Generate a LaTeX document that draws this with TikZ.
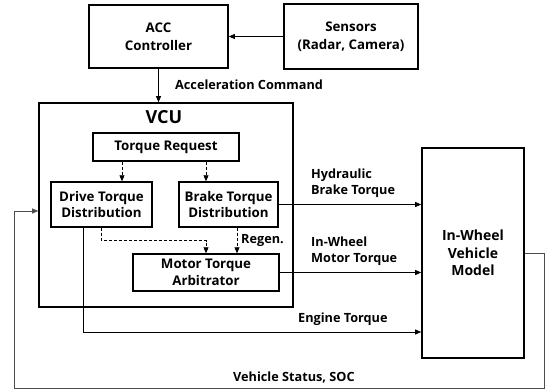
\documentclass[tikz,border=0pt]{standalone}
\usepackage{fontspec}
\setmainfont{Open Sans}
\usetikzlibrary{arrows.meta}
\begin{document}
\begin{tikzpicture}[x=1pt,y=-1pt,
  box/.style={draw,line width=1.6pt,inner sep=0pt,align=center,font=\fontsize{13.3}{16.5}\selectfont\bfseries},
  arr/.style={line width=0.8pt,-{Triangle[length=6pt,width=5pt]}},
  darr/.style={line width=0.8pt,dashed,dash pattern=on 3pt off 2pt,-{Triangle[length=6pt,width=5pt]}},
  fb/.style={line width=0.8pt,draw=black!70,-{Triangle[length=6pt,width=5pt]}},
  lbl/.style={inner sep=0pt,align=left,font=\fontsize{12.7}{16}\selectfont\bfseries}]
\useasboundingbox (0,0) rectangle (546,391);
\node[box,minimum width=139pt,minimum height=63pt,font=\fontsize{13.3}{18}\selectfont\bfseries] (acc) at (158.5,36.5) {ACC\\Controller};
\node[box,minimum width=134pt,minimum height=65pt,font=\fontsize{13.3}{18}\selectfont\bfseries] (sens) at (351,36.5) {Sensors\\(Radar, Camera)};
\node[box,minimum width=254pt,minimum height=204pt] (vcu) at (166,205) {};
\node[lbl,font=\fontsize{18}{20}\selectfont\bfseries] (vcul) at (164,117) {VCU};
\node[box,line width=1.4pt,minimum width=146pt,minimum height=28pt] (tr) at (166,147) {Torque Request};
\node[box,line width=1.4pt,minimum width=101pt,minimum height=45pt] (dtd) at (101.5,204.5) {Drive Torque\\Distribution};
\node[box,line width=1.4pt,minimum width=99pt,minimum height=45pt] (btd) at (228.5,204.5) {Brake Torque\\Distribution};
\node[box,line width=1.4pt,minimum width=146pt,minimum height=37pt] (mta) at (206,272.5) {Motor Torque\\Arbitrator};
\node[box,minimum width=102pt,minimum height=210pt,font=\fontsize{14}{17.5}\selectfont\bfseries] (iw) at (473,253) {In-Wheel\\Vehicle\\Model};
\coordinate (fb1) at (544,388);
\coordinate (fb2) at (14,211);
\draw[arr] (sens.west) -- (acc.east);
\draw[arr] (acc.south) -- (acc.south |- vcu.north);
\node[lbl,anchor=west] (accl) at (175,85) {Acceleration Command};
\draw[darr] ([xshift=-44pt]tr.south) -- ([xshift=20.5pt]dtd.north);
\draw[darr] ([xshift=40pt]tr.south) -- ([xshift=-22.5pt]btd.north);
\draw[darr] (dtd.south) -- ++(0,13) -| (mta.north);
\draw[darr] ([xshift=8.5pt]btd.south) -- ([xshift=31pt]mta.north);
\node[lbl,anchor=west] (regen) at (241,240) {Regen.};
\draw[arr] (btd.east) -- (btd.east -| iw.west);
\node[lbl,anchor=west] (hbt) at (311,183) {Hydraulic\\Brake Torque};
\draw[arr] (mta.east) -- (mta.east -| iw.west);
\node[lbl,anchor=west] (imt) at (311,251) {In-Wheel\\Motor Torque};
\draw[arr] ([xshift=-18.5pt]dtd.south) |- ([yshift=-79pt]iw.west);
\node[lbl,anchor=west] (et) at (298,319) {Engine Torque};
\draw[fb] (iw.east) -| (fb1) -| (fb2) -- (fb2 -| vcu.west);
\node[lbl,anchor=west] (vs) at (233,377) {Vehicle Status, SOC};
\end{tikzpicture}
\end{document}
